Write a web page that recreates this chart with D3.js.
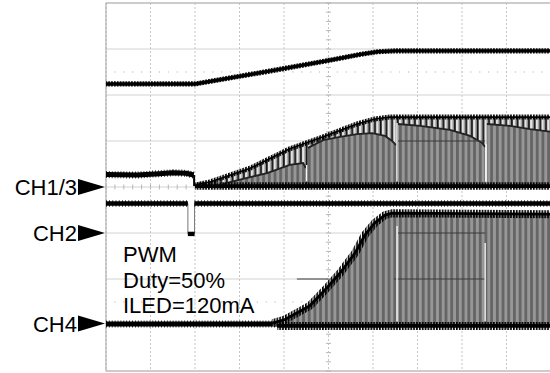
<!DOCTYPE html>
<meta charset="utf-8">
<style>
body { margin: 0; background: #fff; }
svg { display: block; font-family: "Liberation Sans", Arial, sans-serif; }
.grid-h { stroke: #d2d2d2; stroke-width: 1; }
.grid-v { stroke: #c6c6c6; stroke-width: 1; stroke-dasharray: 2,2; }
.frame { fill: none; stroke: #b0b0b0; stroke-width: 1.2; }
.minor { stroke: #b8b8b8; stroke-width: 1; }
.label { font-size: 22px; fill: #000; }
</style>
<svg width="550" height="373"></svg>
<script src="https://cdn.jsdelivr.net/npm/d3@7/dist/d3.min.js"></script>
<script>
// all values in screen divisions: time 0..10, level 0..8 (bottom = 0)

// CH1 - output voltage
var ch1T = [0, 2.0, 3.8, 5.0, 5.7, 6.1, 6.5, 10];
var ch1V = [6.24, 6.24, 6.54, 6.75, 6.88, 6.94, 6.96, 6.96];

// CH3 - switch node, before and after start-up
var ch3PreT = [0, 0.7, 1.2, 1.5, 1.8, 1.97];
var ch3PreV = [4.27, 4.26, 4.29, 4.31, 4.30, 4.26];
var ch3Low = 4.02;
var ch3TopT = [2.0, 2.11, 2.34, 3.24, 4.13, 4.88, 5.64, 6.04, 6.38, 10];
var ch3TopV = [4.02, 4.07, 4.11, 4.41, 4.83, 5.09, 5.37, 5.48, 5.52, 5.52];
var ch3InnerT = [2.63, 3.17, 3.62, 4.13, 4.43, 4.49, null,
                 4.54, 4.88, 5.26, 5.64, 5.98, 6.27, 6.43, 6.52, null,
                 6.56, 7.06, 7.73, 8.18, 8.45, 8.52, null,
                 8.56, 9.08, 9.53, 10];
var ch3InnerV = [4.07, 4.20, 4.30, 4.48, 4.52, 4.41, null,
                 4.85, 5.02, 5.09, 5.15, 5.17, 5.11, 5.00, 4.91, null,
                 5.37, 5.33, 5.24, 5.11, 4.96, 4.87, null,
                 5.37, 5.33, 5.26, 5.20];
var ch3GapT = [4.51, 6.54, 8.54];
var ch3GapV = [4.48, 5.39, 4.93];

// CH2 - PWM dimming input
var ch2T = [0, 1.84, 1.84, 1.99, 1.99, 10];
var ch2V = [3.64, 3.64, 2.98, 2.98, 3.64, 3.64];

// CH4 - LED current
var ch4PreT = [0, 3.9];
var ch4PreV = [1.02, 1.02];
var ch4Low = 0.98;
var ch4TopT = [3.75, 4.02, 4.36, 4.58, 4.92, 5.26, 5.6, 5.82, 6.04, 6.27, 6.43, 10];
var ch4TopV = [1.04, 1.12, 1.30, 1.42, 1.76, 2.13, 2.57, 2.96, 3.22, 3.39, 3.43, 3.41];
var ch4GapT = [6.54, 8.52];
var ch4GapV = [3.15, 2.78];

// grid lines showing through the trace
var ovV = [5, 3, 2, 2];
var ovT0 = [6.56, 6.56, 6.47, 4.29];
var ovT1 = [8.52, 8.52, 8.52, 5.0];

// channel markers
var chNames = ["CH1/3", "CH2", "CH4"];
var chLevels = [4, 3, 1.03];
var noteLines = ["PWM", "Duty=50%", "ILED=120mA"];
var dotRows = [6.5, 1.5];

var svg = d3.select("svg");
var x = d3.scaleLinear().domain([0, 10]).range([106, 551]);
var y = d3.scaleLinear().domain([0, 8]).range([371, 3]);

function pts(T, V) { return T.map(function(t, i) { return {t: t, v: V[i]}; }); }

var line = d3.line().x(function(d) { return x(d.t); }).y(function(d) { return y(d.v); })
    .defined(function(d) { return d.v != null; });

// patterns for the switching waveform
var defs = svg.append("defs");
var stripes = defs.append("pattern").attr("id", "stripes")
    .attr("patternUnits", "userSpaceOnUse").attr("width", 5.7).attr("height", 10);
stripes.append("rect").attr("width", 5.7).attr("height", 10).attr("fill", "#979797");
stripes.append("rect").attr("width", 2.8).attr("height", 10).attr("fill", "#656565");
var spikes = defs.append("pattern").attr("id", "spikes")
    .attr("patternUnits", "userSpaceOnUse").attr("width", 5.7).attr("height", 10);
spikes.append("rect").attr("width", 5.7).attr("height", 10).attr("fill", "#e4e4e4");
spikes.append("rect").attr("x", 2.2).attr("width", 1.4).attr("height", 10).attr("fill", "#999");
spikes.append("rect").attr("x", 3.6).attr("width", 1.9).attr("height", 10).attr("fill", "#111");
var vlines = defs.append("pattern").attr("id", "vlines")
    .attr("patternUnits", "userSpaceOnUse").attr("width", 2.85).attr("height", 10);
vlines.append("rect").attr("width", 1.7).attr("height", 10).attr("fill", "#000");

// spiky edges: vertical line pattern shown only along the envelope
var edgeId = 0;
function spikyEdge(data, band, core) {
  var id = "edge" + (edgeId++);
  defs.append("mask").attr("id", id).attr("maskUnits", "userSpaceOnUse")
      .attr("x", 0).attr("y", 0).attr("width", 550).attr("height", 373)
    .append("path").datum(data).attr("d", line)
      .attr("fill", "none").attr("stroke", "#fff").attr("stroke-width", band);
  svg.append("rect").attr("x", x(0)).attr("y", 0).attr("width", x(10) - x(0)).attr("height", 373)
      .attr("fill", "url(#vlines)").attr("mask", "url(#" + id + ")");
  svg.append("path").datum(data).attr("d", line)
      .attr("fill", "none").attr("stroke", "#000").attr("stroke-width", core)
      .attr("stroke-linejoin", "round");
}

// grid
svg.append("g").selectAll("line").data(y.ticks(8)).enter().append("line")
    .attr("class", "grid-h")
    .attr("x1", x(0)).attr("x2", x(10))
    .attr("y1", function(d) { return y(d); }).attr("y2", function(d) { return y(d); });
svg.append("g").selectAll("line").data(x.ticks(10)).enter().append("line")
    .attr("class", "grid-v")
    .attr("x1", function(d) { return x(d); }).attr("x2", function(d) { return x(d); })
    .attr("y1", y(8)).attr("y2", y(0));

var minorT = d3.range(0, 10.01, 0.2);
var minorV = d3.range(0, 8.01, 0.2);
svg.append("g").selectAll("line").data(minorT).enter().append("line")
    .attr("class", "minor")
    .attr("x1", function(d) { return x(d); }).attr("x2", function(d) { return x(d); })
    .attr("y1", y(4) - 2.5).attr("y2", y(4) + 2.5);
svg.append("g").selectAll("line").data(minorV).enter().append("line")
    .attr("class", "minor")
    .attr("x1", x(5) - 2.5).attr("x2", x(5) + 2.5)
    .attr("y1", function(d) { return y(d); }).attr("y2", function(d) { return y(d); });
dotRows.forEach(function(r) {
  svg.append("g").selectAll("rect").data(minorT.slice(1)).enter().append("rect")
      .attr("x", function(d) { return x(d) - 0.5; }).attr("y", y(r) - 0.5)
      .attr("width", 1).attr("height", 1).attr("fill", "#aaa");
});

svg.append("path").attr("class", "frame")
    .attr("d", "M" + x(10) + "," + y(8) + "H" + x(0) + "V" + y(0) + "H" + x(10));

function trace(data, w, dash) {
  svg.append("path").datum(data).attr("d", line)
      .attr("fill", "none").attr("stroke", "#000").attr("stroke-width", w)
      .attr("stroke-linejoin", "round");
  if (dash) {
    svg.append("path").datum(data).attr("d", line)
        .attr("fill", "none").attr("stroke", "#000").attr("stroke-width", w + 2)
        .attr("stroke-dasharray", dash);
  }
}

// CH1
spikyEdge(pts(ch1T, ch1V), 5.2, 3.4);

// CH3 before start
trace(pts(ch3PreT, ch3PreV), 5, "0.8,2.1");
svg.append("line").attr("x1", x(1.98)).attr("x2", x(1.98))
    .attr("y1", y(ch3PreV[ch3PreV.length - 1])).attr("y2", y(ch3Low))
    .attr("stroke", "#000").attr("stroke-width", 2);

// CH3 switching envelope
var ch3Top = pts(ch3TopT, ch3TopV);
svg.append("path").datum(ch3Top)
    .attr("d", d3.area().x(function(d) { return x(d.t); })
      .y0(y(ch3Low)).y1(function(d) { return y(d.v); }))
    .attr("fill", "url(#spikes)");
svg.append("path").datum(pts(ch3InnerT, ch3InnerV))
    .attr("d", d3.area().defined(function(d) { return d.v != null; })
      .x(function(d) { return x(d.t); })
      .y0(y(ch3Low)).y1(function(d) { return y(d.v); }))
    .attr("fill", "url(#stripes)");
svg.append("path").datum(pts(ch3InnerT, ch3InnerV)).attr("d", line)
    .attr("fill", "none").attr("stroke", "#222").attr("stroke-width", 1.8);
spikyEdge(ch3Top, 5, 1.6);
spikyEdge(pts([2.0, 10], [ch3Low, ch3Low]), 7.5, 3.6);

// CH2
var ch2 = pts(ch2T, ch2V);
svg.append("path").datum(ch2).attr("d", line)
    .attr("fill", "none").attr("stroke", "#777").attr("stroke-width", 1);
d3.pairs(ch2).filter(function(p) { return p[0].v === p[1].v; }).forEach(function(p) {
  trace(p, 4.4, p[1].t - p[0].t > 1 ? "0.8,2.4" : null);
});

// CH4
trace(pts(ch4PreT, ch4PreV), 5, "0.8,2.1");
var ch4Top = pts(ch4TopT, ch4TopV);
svg.append("path").datum(ch4Top)
    .attr("d", d3.area().x(function(d) { return x(d.t); })
      .y0(y(ch4Low)).y1(function(d) { return y(d.v); }))
    .attr("fill", "url(#stripes)");
spikyEdge(ch4Top, 8, 2.8);
spikyEdge(pts([3.85, 10], [ch4Low, ch4Low]), 8, 3.8);

// grid seen through the waveform
svg.append("g").selectAll("line").data(ovV).enter().append("line")
    .attr("x1", function(d, i) { return x(ovT0[i]); })
    .attr("x2", function(d, i) { return x(ovT1[i]); })
    .attr("y1", function(d) { return y(d); }).attr("y2", function(d) { return y(d); })
    .attr("stroke", "#3a3a3a").attr("stroke-width", 1);

// capture gaps
svg.append("g").selectAll("line").data(ch3GapT).enter().append("line")
    .attr("x1", function(d) { return x(d); }).attr("x2", function(d) { return x(d); })
    .attr("y1", function(d, i) { return y(ch3GapV[i]); }).attr("y2", y(ch3Low + 0.1))
    .attr("stroke", "#fff").attr("stroke-width", 1.3);
svg.append("g").selectAll("line").data(ch4GapT).enter().append("line")
    .attr("x1", function(d) { return x(d); }).attr("x2", function(d) { return x(d); })
    .attr("y1", function(d, i) { return y(ch4GapV[i]); }).attr("y2", y(ch4Low + 0.1))
    .attr("stroke", "#fff").attr("stroke-width", 1.3);

// channel markers
var mk = svg.append("g").selectAll("g").data(chNames).enter().append("g")
    .attr("transform", function(d, i) { return "translate(0," + y(chLevels[i]) + ")"; });
mk.append("path").attr("d", "M78,-8L78,8L105,0Z").attr("fill", "#000");
mk.append("text").attr("class", "label").attr("x", 77).attr("y", 8)
    .attr("text-anchor", "end").text(function(d) { return d; });

// note
svg.append("g").selectAll("text").data(noteLines).enter().append("text")
    .attr("class", "label").attr("x", 123)
    .attr("y", function(d, i) { return 262 + i * 25.5; })
    .text(function(d) { return d; });
</script>
